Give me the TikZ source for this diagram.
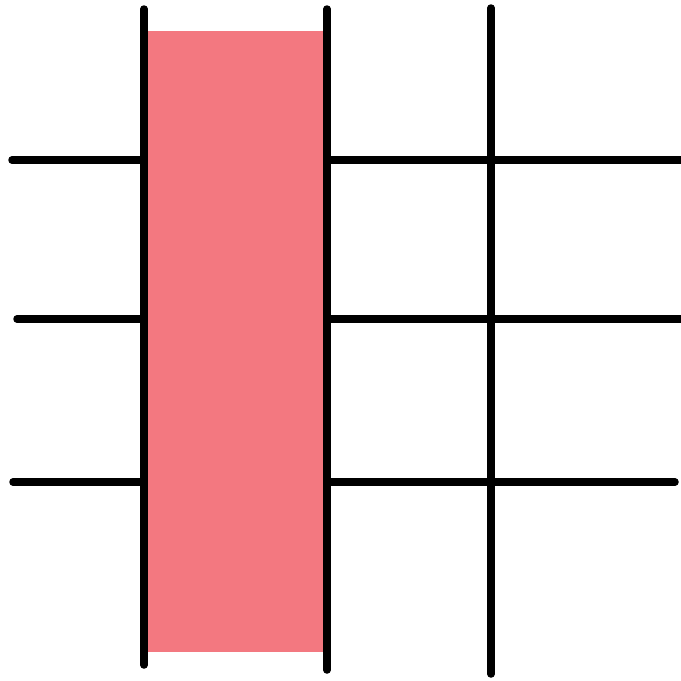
\documentclass[tikz,border=0pt]{standalone}
\usetikzlibrary{positioning}
\definecolor{bandpink}{RGB}{243,120,128}
\tikzset{
  gridline/.style ={line width=7.5pt, draw=black, line cap=round},
  band/.style     ={fill=bandpink, draw=none},
}

\begin{document}
\begin{tikzpicture}[x=1pt, y=-1pt]
  \useasboundingbox (0,0) rectangle (681,681);

  % ---- horizontal lines ----
  \draw[gridline] (12,160) -- (685,160);
  \draw[gridline] (17,319) -- (685,319);
  \draw[gridline] (13,482) -- (675,482);

  % ---- pink band ----
  \fill[band] (146,31) rectangle (329,652);

  % ---- vertical lines ----
  \draw[gridline] (144,9) -- (144,665);
  \draw[gridline] (327,9) -- (327,670);
  \draw[gridline] (491,8) -- (491,674);

\end{tikzpicture}
\end{document}
